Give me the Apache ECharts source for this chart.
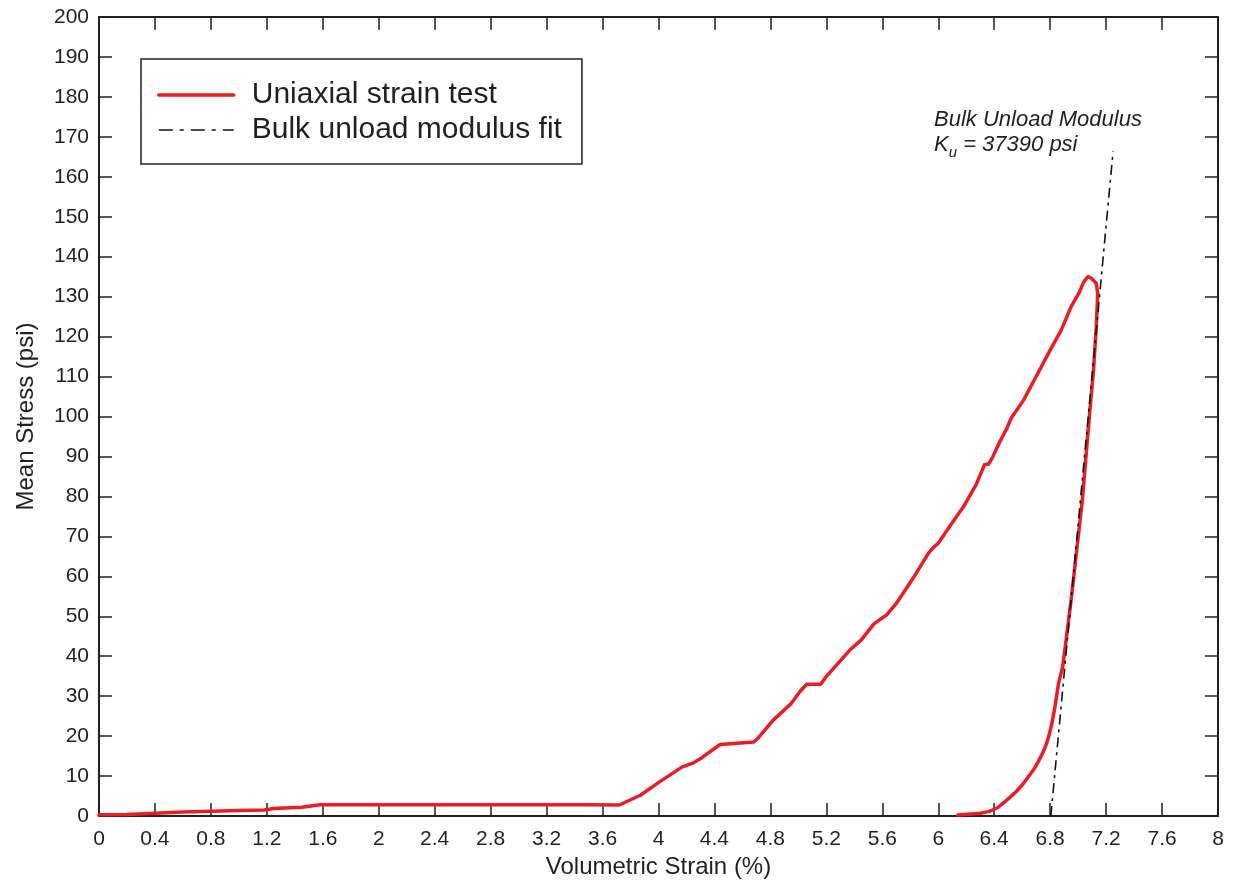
<!DOCTYPE html>
<html>
<head>
<meta charset="utf-8">
<title>Mean Stress vs Volumetric Strain</title>
<script src="https://cdn.jsdelivr.net/npm/echarts@6/dist/echarts.min.js"></script>
<style>
  html, body { margin: 0; padding: 0; background: #ffffff; }
  #chart { width: 1236px; height: 886px; }
</style>
</head>
<body>
<div id="chart"></div>
<script>
// Uniaxial strain test: volumetric strain (%) and mean stress (psi), loading then unloading
const testStrain = [
  0.00, 0.20, 0.40, 0.60, 0.80, 1.00, 1.18, 1.25, 1.45, 1.58, 1.70, 2.00, 2.50, 3.00, 3.50, 3.72,
  3.87, 4.01, 4.17, 4.25, 4.31, 4.44, 4.68, 4.71, 4.82, 4.95, 5.01, 5.06, 5.16, 5.19, 5.24,
  5.37, 5.45, 5.54, 5.58, 5.63, 5.70, 5.82, 5.93, 5.96, 6.00, 6.08, 6.18, 6.27, 6.33, 6.36,
  6.39, 6.44, 6.49, 6.52, 6.61, 6.70, 6.80, 6.88, 6.95, 7.01, 7.04, 7.07, 7.095, 7.13, 7.14,
  7.13, 7.11, 7.08, 7.03, 6.95, 6.92, 6.89, 6.86, 6.835, 6.815, 6.795, 6.775, 6.75, 6.715,
  6.68, 6.61, 6.56, 6.51, 6.46, 6.42, 6.36, 6.30, 6.14
];
const testStress = [
  0.3, 0.4, 0.7, 1.0, 1.2, 1.4, 1.5, 1.9, 2.2, 2.8, 2.8, 2.8, 2.8, 2.8, 2.8, 2.75,
  5.2, 8.6, 12.3, 13.3, 14.6, 17.9, 18.5, 19.4, 24.0, 28.2, 31.1, 33.0, 33.0, 34.5, 36.5,
  41.6, 44.1, 48.1, 49.1, 50.3, 53.2, 59.5, 65.8, 67.0, 68.3, 72.4, 77.4, 82.9, 87.9, 88.1,
  89.9, 93.7, 97.0, 99.5, 104.1, 110.0, 116.6, 121.7, 127.5, 131.2, 133.7, 135.0, 134.6, 133.3, 130.8,
  122.5, 111.6, 100.0, 79.0, 54.1, 45.7, 37.4, 33.2, 27.5, 23.6, 20.6, 18.2, 16.0, 13.6,
  11.5, 8.2, 6.2, 4.6, 3.1, 2.0, 1.1, 0.7, 0.25
];

// Linear unload fit, slope K_u = 37390 psi per unit strain (373.9 psi per %)
const fitStrain = [6.805, 7.25];
const fitStress = [0, 166.4];

// Axis ranges and tick spacing
const strainRange = [0, 8, 0.4];
const stressRange = [0, 200, 10];

const seriesNames = ['Uniaxial strain test', 'Bulk unload modulus fit'];
const axisTitles = ['Volumetric Strain (%)', 'Mean Stress (psi)'];
const noteTitle = 'Bulk Unload Modulus';
const noteValue = ' = 37390 psi';

const FONT = '"Liberation Sans", Arial, Helvetica, sans-serif';
const INK = '#231f20';
const RED = '#ec1c24';

const pairs = (xs, ys) => xs.map((x, i) => [x, ys[i]]);

const chart = echarts.init(document.getElementById('chart'), null, { renderer: 'canvas' });

// Frame: ticks point inward on all four sides
const tickStyle = { show: true, inside: true, length: 13, lineStyle: { color: INK, width: 1.5 } };
const lineStyle = { show: true, onZero: false, lineStyle: { color: INK, width: 2 } };

chart.setOption({
  backgroundColor: '#ffffff',
  animation: false,
  textStyle: { fontFamily: FONT, color: INK },
  grid: { left: 99, right: 18, top: 17, bottom: 70, containLabel: false },
  xAxis: [
    {
      type: 'value', position: 'bottom',
      min: strainRange[0], max: strainRange[1], interval: strainRange[2],
      name: axisTitles[0], nameLocation: 'middle', nameGap: 39,
      nameTextStyle: { fontSize: 24, color: INK, fontFamily: FONT },
      axisLine: lineStyle, axisTick: tickStyle,
      axisLabel: { fontSize: 21, color: INK, fontFamily: FONT, margin: 13 },
      splitLine: { show: false }
    },
    {
      type: 'value', position: 'top',
      min: strainRange[0], max: strainRange[1], interval: strainRange[2],
      axisLine: lineStyle, axisTick: tickStyle,
      axisLabel: { show: false }, splitLine: { show: false }
    }
  ],
  yAxis: [
    {
      type: 'value', position: 'left',
      min: stressRange[0], max: stressRange[1], interval: stressRange[2],
      name: axisTitles[1], nameLocation: 'middle', nameGap: 61,
      nameTextStyle: { fontSize: 24, color: INK, fontFamily: FONT },
      axisLine: lineStyle, axisTick: tickStyle,
      axisLabel: { fontSize: 21, color: INK, fontFamily: FONT, margin: 10 },
      splitLine: { show: false }
    },
    {
      type: 'value', position: 'right',
      min: stressRange[0], max: stressRange[1], interval: stressRange[2],
      axisLine: lineStyle, axisTick: tickStyle,
      axisLabel: { show: false }, splitLine: { show: false }
    }
  ],
  legend: {
    orient: 'vertical',
    left: 141, top: 59,
    padding: [21, 20, 19, 16],
    itemGap: 5,
    itemWidth: 75, itemHeight: 14,
    borderColor: INK, borderWidth: 1.5, borderRadius: 0,
    backgroundColor: '#ffffff',
    itemStyle: { opacity: 0 },
    textStyle: { fontSize: 30, color: INK, fontFamily: FONT, padding: [0, 0, 0, 13] },
    data: [
      { name: seriesNames[0], lineStyle: { width: 3.5, color: RED } },
      { name: seriesNames[1], lineStyle: { width: 1.6, color: '#111111', type: [14, 7, 4, 7] } }
    ]
  },
  series: [
    {
      name: seriesNames[0], type: 'line',
      xAxisIndex: 0, yAxisIndex: 0,
      data: pairs(testStrain, testStress),
      symbol: 'none', smooth: false,
      lineStyle: { color: RED, width: 3.5, join: 'round', cap: 'round' },
      itemStyle: { color: RED },
      z: 2
    },
    {
      name: seriesNames[1], type: 'line',
      xAxisIndex: 0, yAxisIndex: 0,
      data: pairs(fitStrain, fitStress),
      symbol: 'none',
      lineStyle: { color: '#111111', width: 1.6, type: [10, 5, 3, 5] },
      itemStyle: { color: '#111111' },
      z: 3
    }
  ],
  graphic: [
    {
      type: 'text', left: 934, top: 109,
      style: { text: noteTitle, font: 'italic 22px ' + FONT, fill: INK }
    },
    {
      type: 'text', left: 934, top: 134,
      style: {
        text: '{k|K}{s|u}{k|' + noteValue + '}',
        rich: {
          k: { font: 'italic 22px ' + FONT, fill: INK, color: INK, lineHeight: 25, verticalAlign: 'top' },
          s: { font: 'italic 15px ' + FONT, fill: INK, color: INK, lineHeight: 25, padding: [11, 0, 0, 0], verticalAlign: 'top' }
        }
      }
    }
  ]
});
</script>
</body>
</html>
